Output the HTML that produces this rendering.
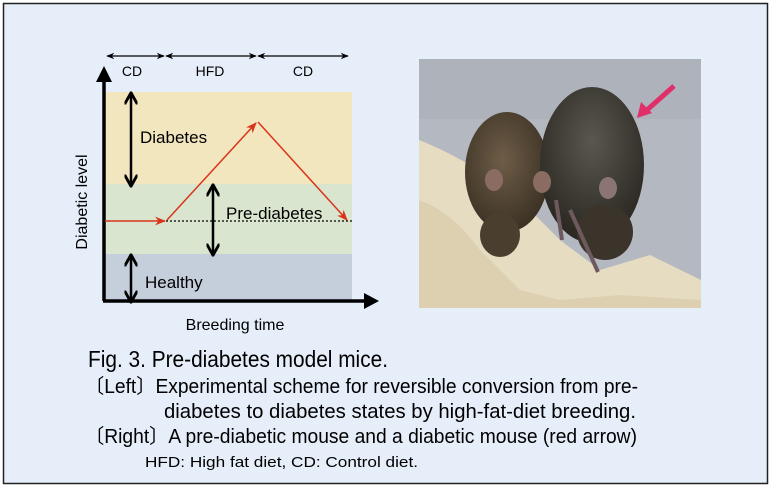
<!DOCTYPE html>
<html><head><meta charset="utf-8"><style>
html,body{margin:0;padding:0;background:#fff;}
svg{display:block;}
text{font-family:"Liberation Sans",Arial,sans-serif;}
</style></head><body>
<svg width="771" height="494" viewBox="0 0 771 494" xmlns="http://www.w3.org/2000/svg">
<defs>
<marker id="ar" viewBox="0 0 10 10" refX="9" refY="5" markerWidth="8" markerHeight="8" orient="auto-start-reverse" markerUnits="userSpaceOnUse"><path d="M0,1 L10,5 L0,9 L3,5z" fill="#000"/></marker>
<marker id="rr" viewBox="0 0 10 10" refX="9" refY="5" markerWidth="11" markerHeight="11" orient="auto" markerUnits="userSpaceOnUse"><path d="M0,1 L10,5 L0,9 L3,5z" fill="#d9341a"/></marker>
<marker id="bb" viewBox="0 0 10 10" refX="8" refY="5" markerWidth="13" markerHeight="13" orient="auto-start-reverse" markerUnits="userSpaceOnUse"><path d="M0,0 L9,5 L0,10" fill="none" stroke="#000" stroke-width="2.2"/></marker>
<radialGradient id="m1" cx="0.45" cy="0.4" r="0.6"><stop offset="0" stop-color="#6e5d48"/><stop offset="1" stop-color="#3c3224"/></radialGradient>
<radialGradient id="m2" cx="0.5" cy="0.35" r="0.6"><stop offset="0" stop-color="#5a5650"/><stop offset="1" stop-color="#2d2a24"/></radialGradient>
</defs>
<rect x="3.5" y="3.5" width="764" height="480" fill="#e6eef9" stroke="#222" stroke-width="1.5"/>
<rect x="104" y="92" width="248" height="92" fill="#f2e6bf"/>
<rect x="104" y="184" width="248" height="70" fill="#d9e5cf"/>
<rect x="104" y="254" width="248" height="47" fill="#c5cfdc"/>
<line x1="104" y1="301" x2="104" y2="80" stroke="#000" stroke-width="3.5"/>
<path d="M96,82 L104,66 L112,82z" fill="#000"/>
<line x1="103" y1="301" x2="366" y2="301" stroke="#000" stroke-width="3.5"/>
<path d="M364,293 L379,301 L364,309z" fill="#000"/>
<line x1="107" y1="56" x2="164" y2="56" stroke="#000" stroke-width="1.3" marker-start="url(#ar)" marker-end="url(#ar)"/>
<line x1="166" y1="56" x2="256" y2="56" stroke="#000" stroke-width="1.3" marker-start="url(#ar)" marker-end="url(#ar)"/>
<line x1="258" y1="56" x2="348" y2="56" stroke="#000" stroke-width="1.3" marker-start="url(#ar)" marker-end="url(#ar)"/>
<text x="132" y="76" font-size="14" text-anchor="middle">CD</text>
<text x="210" y="76" font-size="14" text-anchor="middle">HFD</text>
<text x="303" y="76" font-size="14" text-anchor="middle">CD</text>
<line x1="131" y1="94" x2="131" y2="185" stroke="#000" stroke-width="2.5" marker-start="url(#bb)" marker-end="url(#bb)"/>
<line x1="213" y1="186" x2="213" y2="254" stroke="#000" stroke-width="2.5" marker-start="url(#bb)" marker-end="url(#bb)"/>
<line x1="131" y1="256" x2="131" y2="301" stroke="#000" stroke-width="2.5" marker-start="url(#bb)" marker-end="url(#bb)"/>
<line x1="166" y1="221" x2="352" y2="221" stroke="#000" stroke-width="1.3" stroke-dasharray="2,2"/>
<line x1="105" y1="221" x2="165" y2="221" stroke="#d9341a" stroke-width="1.5" marker-end="url(#rr)"/>
<line x1="167" y1="220" x2="256" y2="123" stroke="#d9341a" stroke-width="1.5" marker-end="url(#rr)"/>
<line x1="258" y1="122" x2="347" y2="220" stroke="#d9341a" stroke-width="1.5" marker-end="url(#rr)"/>
<text x="140" y="143" font-size="17">Diabetes</text>
<text x="226" y="219" font-size="17">Pre-diabetes</text>
<text x="145" y="288" font-size="17">Healthy</text>
<text transform="translate(87,202) rotate(-90)" font-size="16" text-anchor="middle">Diabetic level</text>
<text x="235" y="330" font-size="16" text-anchor="middle">Breeding time</text>
<g>
<rect x="419" y="59" width="282" height="249" fill="#b4b8c0"/>
<rect x="419" y="59" width="282" height="60" fill="#aeb2ba"/>
<path d="M419,140 Q470,160 520,200 L560,240 L600,270 L650,255 L701,280 L701,308 L419,308z" fill="#e6dcc2"/>
<path d="M419,200 Q450,210 480,250 L520,290 L560,300 L620,295 L701,300 L701,308 L419,308z" fill="#ddd0b0"/>
<ellipse cx="507" cy="172" rx="42" ry="60" fill="url(#m1)"/>
<ellipse cx="500" cy="235" rx="20" ry="22" fill="#4a3e2f"/>
<ellipse cx="592" cy="165" rx="52" ry="78" fill="url(#m2)"/>
<ellipse cx="605" cy="232" rx="28" ry="28" fill="#3a342b"/>
<ellipse cx="494" cy="180" rx="9" ry="11" fill="#8a6c62"/>
<ellipse cx="542" cy="182" rx="9" ry="11" fill="#8a6c62"/>
<ellipse cx="608" cy="188" rx="9" ry="11" fill="#8a7474"/>
<line x1="556" y1="200" x2="562" y2="240" stroke="#6e5a5e" stroke-width="4"/>
<line x1="570" y1="210" x2="598" y2="272" stroke="#6e5a5e" stroke-width="4"/>
<line x1="674" y1="86" x2="647" y2="110" stroke="#e0306a" stroke-width="5"/>
<path d="M637,118 L641,102 L652,113z" fill="#e0306a"/>
</g>
<text x="88" y="367" font-size="23" textLength="300" lengthAdjust="spacingAndGlyphs">Fig. 3. Pre-diabetes model mice.</text>
<text x="85" y="393" font-size="20" textLength="553" lengthAdjust="spacingAndGlyphs">〔Left〕Experimental scheme for reversible conversion from pre-</text>
<text x="164" y="418" font-size="20" textLength="472" lengthAdjust="spacingAndGlyphs">diabetes to diabetes states by high-fat-diet breeding.</text>
<text x="85" y="443" font-size="20" textLength="552" lengthAdjust="spacingAndGlyphs">〔Right〕A pre-diabetic mouse and a diabetic mouse (red arrow)</text>
<text x="145" y="467" font-size="15" textLength="273" lengthAdjust="spacingAndGlyphs">HFD: High fat diet, CD: Control diet.</text>
</svg>
</body></html>
